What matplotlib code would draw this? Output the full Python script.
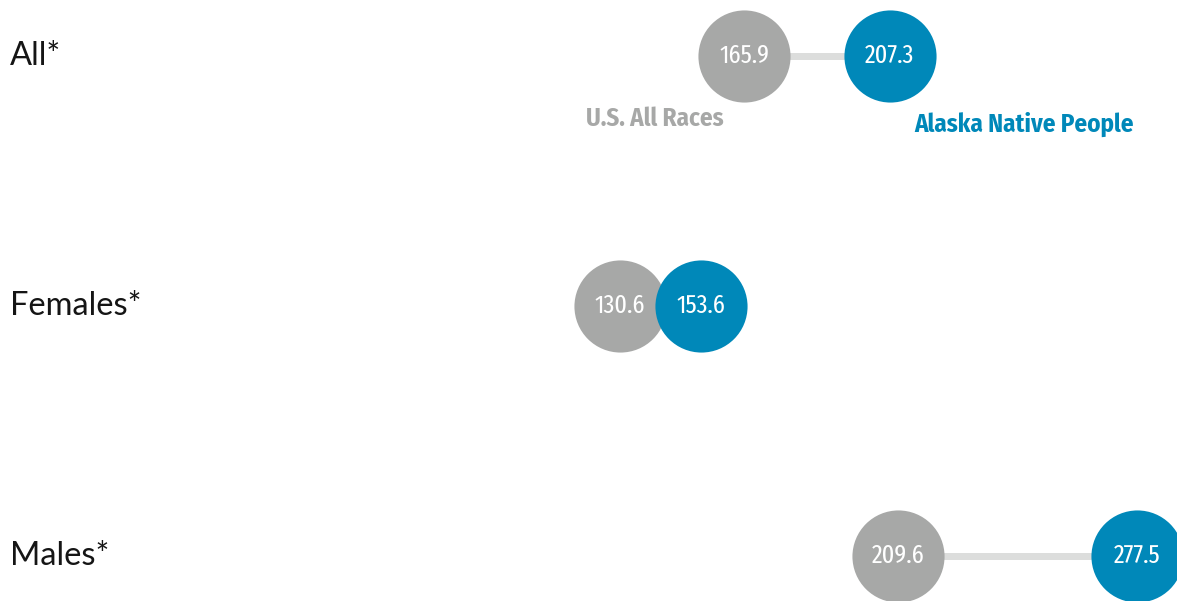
import matplotlib
matplotlib.use("Agg")
import matplotlib.pyplot as plt
from matplotlib import font_manager

# rates per group
groups = ["All*", "Females*", "Males*"]
us_all_races = [165.9, 130.6, 209.6]
alaska_native = [207.3, 153.6, 277.5]

GRAY = "#a7a8a7"
BLUE = "#0088b9"
LINE = "#dcdddc"

names = {f.name for f in font_manager.fontManager.ttflist}


def pick(*cands):
    for c in cands:
        if c in names:
            return c
    return "DejaVu Sans"


value_font = pick("Fira Sans Extra Condensed", "Roboto Condensed")
legend_font = pick("Fira Sans Condensed", "Roboto Condensed")
label_font = pick("Lato", "Open Sans")

fig = plt.figure(figsize=(11.77, 6.01), dpi=100)
ax = fig.add_axes([0, 0, 1, 1])
ax.set_xlim(-45.45, 288.9)
ax.set_ylim(601, 0)
ax.axis("off")

row_y = [56 + i * 250 for i in range(len(groups))]

for y, g, a, b in zip(row_y, groups, us_all_races, alaska_native):
    ax.plot([a, b], [y, y], color=LINE, lw=5, zorder=1, solid_capstyle="butt")
    ax.scatter([a], [y], s=4400, color=GRAY, zorder=2, linewidths=0)
    ax.scatter([b], [y], s=4400, color=BLUE, zorder=3, linewidths=0)
    for v in (a, b):
        ax.text(v, y, f"{v:.1f}", color="white", fontsize=19, family=value_font,
                ha="center", va="center", zorder=4)
    ax.text(-42.6, y, g, color="#151515", fontsize=23.5, family=label_font,
            ha="left", va="center")

# series labels under the first row
ax.annotate("U.S. All Races", (us_all_races[0], row_y[0]), xytext=(-15, -45),
            textcoords="offset points", color=GRAY, fontsize=18, fontweight="bold",
            family=legend_font, ha="right", va="center")
ax.annotate("Alaska Native People", (alaska_native[0], row_y[0]), xytext=(18, -49),
            textcoords="offset points", color=BLUE, fontsize=18, fontweight="bold",
            family=legend_font, ha="left", va="center")

fig.savefig("out.png", dpi=100)
